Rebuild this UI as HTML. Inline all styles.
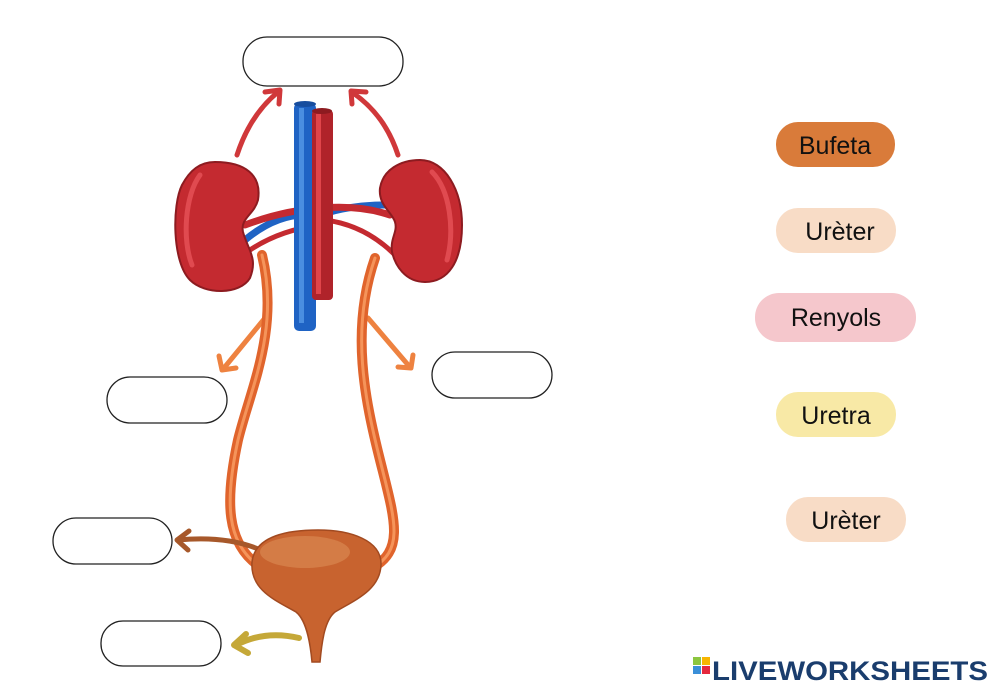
<!DOCTYPE html>
<html><head><meta charset="utf-8"><style>
html,body{margin:0;padding:0;background:#fff;}
svg{display:block;}
text{font-family:"Liberation Sans",sans-serif;}
</style></head><body>
<svg width="1000" height="693" viewBox="0 0 1000 693" xmlns="http://www.w3.org/2000/svg">
<defs>
<marker id="ar" markerWidth="6" markerHeight="6" refX="3" refY="3" orient="auto" markerUnits="strokeWidth"><path d="M0.5,0.5 L3,3 L0.5,5.5" fill="none" stroke="context-stroke" stroke-width="1"/></marker>
</defs>
<!-- blank boxes -->
<g fill="#fff" stroke="#222" stroke-width="1.3">
<rect x="243" y="37" width="160" height="49" rx="24"/>
<rect x="107" y="377" width="120" height="46" rx="23"/>
<rect x="432" y="352" width="120" height="46" rx="23"/>
<rect x="53" y="518" width="119" height="46" rx="23"/>
<rect x="101" y="621" width="120" height="45" rx="22"/>
</g>
<!-- red arrows -->
<g fill="none" stroke="#d0383a" stroke-width="5" stroke-linecap="round" stroke-linejoin="round">
<path d="M237,155 Q250,115 278,92"/><path d="M265,92 L280,90 L279,104"/>
<path d="M398,155 Q385,115 353,93"/><path d="M366,92 L351,91 L352,104"/>
</g>
<!-- orange arrows -->
<g fill="none" stroke="#ee8240" stroke-width="5" stroke-linecap="round" stroke-linejoin="round">
<path d="M265,318 L224,368"/><path d="M219,356 L222,370 L236,368"/>
<path d="M368,318 L409,366"/><path d="M398,367 L411,368 L413,355"/>
</g>
<!-- ureters -->
<g fill="none" stroke-linecap="round">
<path d="M262,255 C280,330 250,390 238,440 C225,500 225,545 262,568" stroke="#e0642c" stroke-width="10"/>
<path d="M262,255 C280,330 250,390 238,440 C225,500 225,545 262,568" stroke="#f5945a" stroke-width="3"/>
<path d="M375,258 C350,330 365,400 380,460 C395,520 405,550 372,568" stroke="#e0642c" stroke-width="10"/>
<path d="M375,258 C350,330 365,400 380,460 C395,520 405,550 372,568" stroke="#f5945a" stroke-width="3"/>
</g>
<!-- vessels horizontal -->
<g fill="none" stroke-linecap="round">
<path d="M245,240 Q275,215 305,215" stroke="#1f63c4" stroke-width="7"/>
<path d="M385,205 Q355,205 330,212" stroke="#1f63c4" stroke-width="7"/>
<path d="M245,225 Q285,210 322,208" stroke="#c42a30" stroke-width="7"/>
<path d="M390,215 Q360,205 322,208" stroke="#c42a30" stroke-width="7"/>
<path d="M250,250 Q280,230 320,225" stroke="#c42a30" stroke-width="5"/>
<path d="M395,255 Q365,225 325,220" stroke="#c42a30" stroke-width="5"/>
</g>
<!-- vena cava -->
<rect x="294" y="103" width="22" height="228" rx="5" fill="#1f63c4"/>
<rect x="299" y="108" width="5" height="215" fill="#4a8ee0"/>
<ellipse cx="305" cy="104" rx="11" ry="3" fill="#174d9e"/>
<!-- aorta -->
<rect x="312" y="110" width="21" height="190" rx="4" fill="#b0232a"/>
<rect x="316" y="114" width="5" height="180" fill="#e0454a"/>
<ellipse cx="322" cy="111" rx="10" ry="3" fill="#8d1b20"/>
<!-- kidneys -->
<path d="M215,162 C245,162 262,175 258,200 C254,215 240,218 243,232 C248,250 258,258 250,278 C240,295 205,295 190,280 C172,262 172,205 182,185 C190,170 200,162 215,162 Z" fill="#c42a30" stroke="#8d1b20" stroke-width="2"/>
<path d="M200,175 C185,195 182,240 192,265" fill="none" stroke="#e04a50" stroke-width="5" stroke-linecap="round"/>
<path d="M420,160 C445,160 462,190 462,225 C462,262 448,282 425,282 C405,282 395,265 392,252 C390,238 398,232 395,222 C392,212 378,205 380,188 C383,170 400,160 420,160 Z" fill="#c42a30" stroke="#8d1b20" stroke-width="2"/>
<path d="M432,172 C450,190 455,230 447,260" fill="none" stroke="#e04a50" stroke-width="5" stroke-linecap="round"/>
<!-- brown arrow -->
<g fill="none" stroke="#a7582a" stroke-width="5" stroke-linecap="round" stroke-linejoin="round">
<path d="M265,552 Q230,535 178,540"/><path d="M189,531 L177,540 L188,550"/>
</g>
<!-- bladder -->
<path d="M252,562 C255,535 290,530 318,530 C350,530 382,540 381,565 C380,590 355,600 335,612 C325,620 322,640 320,662 L312,662 C310,640 306,620 296,612 C275,600 250,590 252,562 Z" fill="#c8632f" stroke="#a24a20" stroke-width="1.5"/>
<ellipse cx="305" cy="552" rx="45" ry="16" fill="#d98850" opacity="0.7"/>
<!-- yellow arrow -->
<g fill="none" stroke="#c5a838" stroke-width="6" stroke-linecap="round" stroke-linejoin="round">
<path d="M299,638 Q265,630 236,645"/><path d="M246,634 L234,645 L248,653"/>
</g>
<!-- tags -->
<rect x="776" y="122" width="119" height="45" rx="22" fill="#d97b3a"/>
<text x="835" y="154" font-size="25" text-anchor="middle" fill="#111">Bufeta</text>
<rect x="776" y="208" width="120" height="45" rx="22" fill="#f8dcc6"/>
<text x="840" y="240" font-size="25" text-anchor="middle" fill="#111">Urèter</text>
<rect x="755" y="293" width="161" height="49" rx="24" fill="#f5c7cc"/>
<text x="836" y="326" font-size="25" text-anchor="middle" fill="#111">Renyols</text>
<rect x="776" y="392" width="120" height="45" rx="22" fill="#f8e9a6"/>
<text x="836" y="424" font-size="25" text-anchor="middle" fill="#111">Uretra</text>
<rect x="786" y="497" width="120" height="45" rx="22" fill="#f8dcc6"/>
<text x="846" y="529" font-size="25" text-anchor="middle" fill="#111">Urèter</text>
<!-- logo -->
<rect x="693" y="657" width="8" height="8" fill="#8cc63f"/><rect x="702" y="657" width="8" height="8" fill="#f7b500"/>
<rect x="693" y="666" width="8" height="8" fill="#3a8fd8"/><rect x="702" y="666" width="8" height="8" fill="#e5283d"/>
<text x="712" y="680" font-size="27" font-weight="bold" fill="#1a3d6d" textLength="276" lengthAdjust="spacingAndGlyphs">LIVEWORKSHEETS</text>
</svg>
</body></html>
